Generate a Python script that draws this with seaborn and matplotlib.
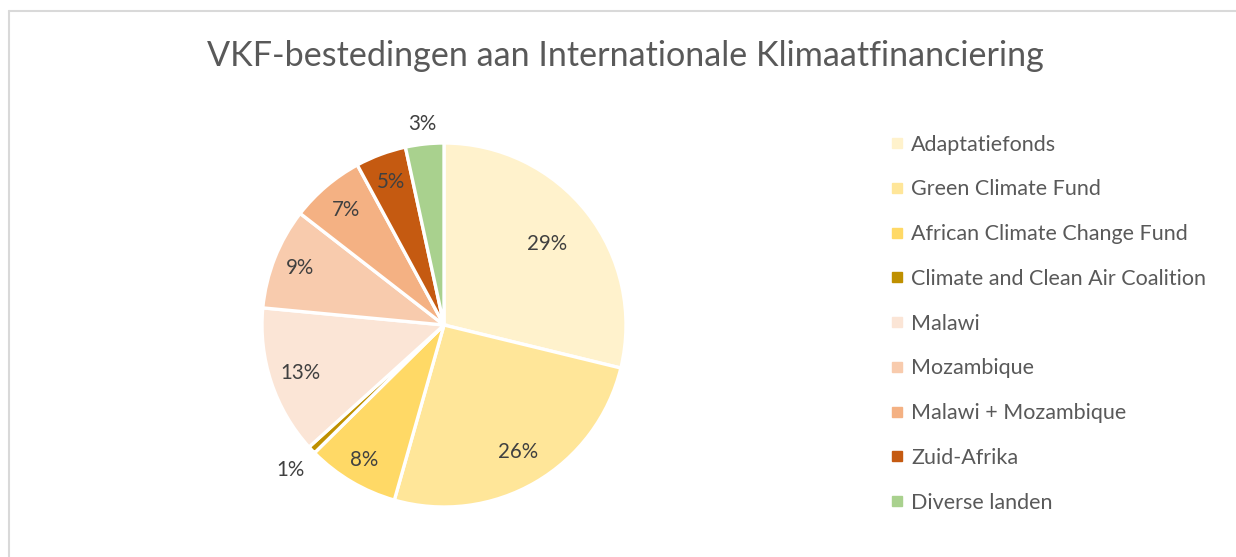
import matplotlib
matplotlib.use("Agg")
import matplotlib.pyplot as plt
import seaborn as sns
import numpy as np
from matplotlib.lines import Line2D

categories = ["Adaptatiefonds", "Green Climate Fund", "African Climate Change Fund",
              "Climate and Clean Air Coalition", "Malawi", "Mozambique",
              "Malawi + Mozambique", "Zuid-Afrika", "Diverse landen"]
values = [28.8, 25.6, 8.2, 0.7, 13.2, 9.0, 6.6, 4.5, 3.4]
pct_labels = ["29%", "26%", "8%", "1%", "13%", "9%", "7%", "5%", "3%"]
colors = ["#FFF2CC", "#FFE699", "#FFD966", "#BF9000", "#FBE5D6",
          "#F8CBAD", "#F4B183", "#C55A11", "#A9D18E"]
label_dist = [0.72, 0.81, 0.86, 1.16, 0.83, 0.85, 0.83, 0.84, 1.11]

sns.set_theme(style="white")
plt.rcParams['font.family'] = ['Lato', 'DejaVu Sans']

W, H = 1236, 557
fig = plt.figure(figsize=(W / 100, H / 100), dpi=100)
fig.patch.set_facecolor("white")

cx, cy, R = 444, 325, 182
ax = fig.add_axes([(cx - R) / W, (H - cy - R) / H, 2 * R / W, 2 * R / H])
wedges, _ = ax.pie(values, colors=colors, startangle=90, counterclock=False,
                   radius=1.0, wedgeprops=dict(edgecolor="white", linewidth=2.4))
ax.set_xlim(-1, 1)
ax.set_ylim(-1, 1)
ax.set_aspect("equal")
ax.axis("off")

for w, lab, d in zip(wedges, pct_labels, label_dist):
    ang = np.deg2rad((w.theta1 + w.theta2) / 2)
    ax.text(d * np.cos(ang), d * np.sin(ang), lab, ha="center", va="center",
            fontsize=14.8, color="#404040", clip_on=False)

fig.text(625 / W, 1 - 56 / H, "VKF-bestedingen aan Internationale Klimaatfinanciering",
         ha="center", va="center", fontsize=24.6, color="#595959")

handles = [Line2D([0], [0], marker="s", linestyle="none", markersize=6.5,
                  markerfacecolor=c, markeredgecolor=c) for c in colors]
fig.legend(handles, categories, loc="upper left", bbox_to_anchor=(881 / W, 1 - 126 / H),
           frameon=False, fontsize=15.5, labelcolor="#595959", handlelength=0.7,
           handletextpad=0.3, labelspacing=1.15, borderaxespad=0)

# chart border (top and left visible)
fig.add_artist(Line2D([8.5 / W, 8.5 / W], [0, 1 - 11 / H], transform=fig.transFigure,
                      color="#D9D9D9", linewidth=1.5))
fig.add_artist(Line2D([8.5 / W, 1], [1 - 11 / H, 1 - 11 / H], transform=fig.transFigure,
                      color="#D9D9D9", linewidth=1.5))

fig.savefig("out.png", dpi=100, facecolor="white")
